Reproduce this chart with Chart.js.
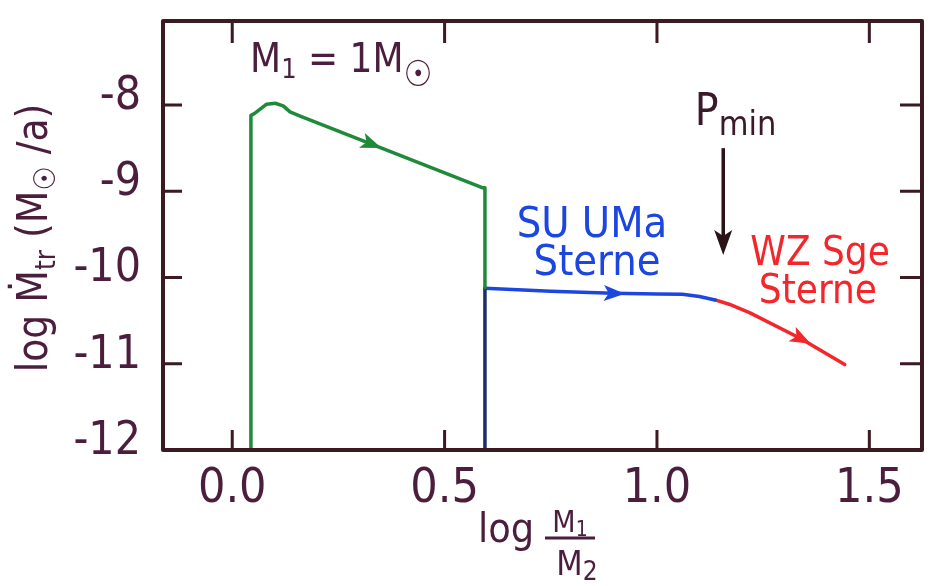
<!DOCTYPE html>
<html>
<head>
<meta charset="utf-8">
<script src="https://cdn.jsdelivr.net/npm/chart.js@4.4.0/dist/chart.umd.min.js"></script>
<style>
    html, body { margin: 0; padding: 0; background: #fff; }
    #wrap { width: 930px; height: 586px; position: relative; }
</style>
</head>
<body>
<div id="wrap"><canvas id="chart"></canvas></div>
<script>
// mass transfer rate vs. log(M1/M2), M1 = 1 Msun

const xTicks = [0.0, 0.5, 1.0, 1.5];
const yTicks = [-8, -9, -10, -11, -12];

// green track (left box)
const greenX = [0.044, 0.044, 0.052, 0.065, 0.081, 0.101, 0.120, 0.136, 0.160, 0.590, 0.595, 0.595];
const greenY = [-12, -8.12, -8.10, -8.05, -7.99, -7.98, -8.01, -8.08, -8.13, -8.96, -8.96, -10.12];
// dark drop line under the blue start
const dropX = [0.595, 0.595];
const dropY = [-10.12, -12];
// SU UMa stars
const blueX = [0.595, 0.75, 0.896, 1.00, 1.06, 1.10, 1.137];
const blueY = [-10.125, -10.16, -10.183, -10.19, -10.195, -10.22, -10.26];
// WZ Sge stars
const redX = [1.137, 1.17, 1.219, 1.337, 1.442];
const redY = [-10.26, -10.31, -10.41, -10.705, -11.01];

// arrow heads along the tracks
const arrowX = [0.325, 0.896, 1.337];
const arrowSet = [0, 2, 3];

// P_min marker
const pminX = 1.156;
const pminFrom = -8.50;
const pminTo = -9.74;

const INK = '#4a1e3c';
const AXIS = '#3b1a22';
const GREEN = '#1f8a3a';
const BLUE = '#1c46e0';
const RED = '#f2262b';
const NAVY = '#1d2d6a';
const FONT = "'Liberation Sans Narrow', 'DejaVu Sans Condensed', 'Liberation Sans', sans-serif";

const pts = (xs, ys) => xs.map((x, i) => ({ x: x, y: ys[i] }));

function line(data, color) {
    return { data: data, borderColor: color, borderWidth: 3.5, showLine: true,
             pointRadius: 0, tension: 0, fill: false, borderJoinStyle: 'round', borderCapStyle: 'round' };
}

// draw a list of text runs, each {t, size, dy}
function runs(ctx, list, x, y, align) {
    let w = 0;
    list.forEach(r => { ctx.font = r.size + 'px ' + FONT; w += ctx.measureText(r.t).width; });
    let cx = align === 'center' ? x - w / 2 : x;
    list.forEach(r => {
        ctx.font = r.size + 'px ' + FONT;
        ctx.fillText(r.t, cx, y + (r.dy || 0));
        cx += ctx.measureText(r.t).width;
    });
}

const decor = {
    id: 'decor',
    afterDatasetsDraw(chart) {
        const ctx = chart.ctx;
        const a = chart.chartArea;
        const xs = chart.scales.x, ys = chart.scales.y;
        ctx.save();

        // frame
        ctx.strokeStyle = AXIS;
        ctx.lineWidth = 4;
        ctx.lineJoin = 'round';
        ctx.strokeRect(a.left, a.top, a.right - a.left, a.bottom - a.top);

        // inward ticks on all four sides
        ctx.lineWidth = 3;
        ctx.beginPath();
        xTicks.forEach(v => {
            const px = xs.getPixelForValue(v);
            ctx.moveTo(px, a.bottom); ctx.lineTo(px, a.bottom - 20);
            ctx.moveTo(px, a.top); ctx.lineTo(px, a.top + 22);
        });
        yTicks.forEach(v => {
            const py = ys.getPixelForValue(v);
            ctx.moveTo(a.left, py); ctx.lineTo(a.left + 19, py);
            ctx.moveTo(a.right, py); ctx.lineTo(a.right - 22, py);
        });
        ctx.stroke();

        // arrow heads on the tracks
        arrowX.forEach((ax, i) => {
            const ds = chart.data.datasets[arrowSet[i]];
            const d = ds.data;
            let k = 0;
            while (k < d.length - 2 && !(d[k].x <= ax && d[k + 1].x >= ax && d[k + 1].x > d[k].x)) k++;
            const t = (ax - d[k].x) / (d[k + 1].x - d[k].x);
            const ay = d[k].y + t * (d[k + 1].y - d[k].y);
            const x0 = xs.getPixelForValue(d[k].x), y0 = ys.getPixelForValue(d[k].y);
            const x1 = xs.getPixelForValue(d[k + 1].x), y1 = ys.getPixelForValue(d[k + 1].y);
            const ang = Math.atan2(y1 - y0, x1 - x0);
            const px = xs.getPixelForValue(ax), py = ys.getPixelForValue(ay);
            ctx.save();
            ctx.translate(px, py);
            ctx.rotate(ang);
            ctx.fillStyle = ds.borderColor;
            ctx.beginPath();
            ctx.moveTo(12, 0);
            ctx.lineTo(-9, -8);
            ctx.lineTo(-4, 0);
            ctx.lineTo(-9, 8);
            ctx.closePath();
            ctx.fill();
            ctx.restore();
        });

        // P_min arrow
        const pmx = xs.getPixelForValue(pminX);
        const pTop = ys.getPixelForValue(pminFrom), pBot = ys.getPixelForValue(pminTo);
        ctx.strokeStyle = '#2a1418';
        ctx.fillStyle = '#2a1418';
        ctx.lineWidth = 3.5;
        ctx.beginPath();
        ctx.moveTo(pmx, pTop); ctx.lineTo(pmx, pBot - 18);
        ctx.stroke();
        ctx.beginPath();
        ctx.moveTo(pmx, pBot);
        ctx.lineTo(pmx - 9, pBot - 25);
        ctx.lineTo(pmx, pBot - 19);
        ctx.lineTo(pmx + 9, pBot - 25);
        ctx.closePath();
        ctx.fill();

        // annotations
        ctx.textBaseline = 'alphabetic';
        ctx.fillStyle = INK;
        runs(ctx, [{ t: 'M', size: 40 }, { t: '1', size: 27, dy: 6 }, { t: ' = 1M', size: 40 }, { t: '☉', size: 36, dy: 14 }],
            xs.getPixelForValue(0.042), ys.getPixelForValue(-7.617), 'left');
        ctx.fillStyle = '#3a1a2a';
        runs(ctx, [{ t: 'P', size: 44 }, { t: 'min', size: 34, dy: 10 }],
            xs.getPixelForValue(1.089), ys.getPixelForValue(-8.232), 'left');

        ctx.fillStyle = BLUE;
        runs(ctx, [{ t: 'SU UMa', size: 43 }], xs.getPixelForValue(0.847), ys.getPixelForValue(-9.53), 'center');
        runs(ctx, [{ t: 'Sterne', size: 43 }], xs.getPixelForValue(0.859), ys.getPixelForValue(-9.971), 'center');
        ctx.fillStyle = RED;
        runs(ctx, [{ t: 'WZ Sge', size: 40 }], xs.getPixelForValue(1.384), ys.getPixelForValue(-9.855), 'center');
        runs(ctx, [{ t: 'Sterne', size: 40 }], xs.getPixelForValue(1.379), ys.getPixelForValue(-10.296), 'center');
        ctx.restore();
    },
    afterDraw(chart) {
        const ctx = chart.ctx;
        ctx.save();
        ctx.fillStyle = INK;
        ctx.textBaseline = 'alphabetic';

        // y title, rotated
        ctx.save();
        ctx.translate(47, 238);
        ctx.rotate(-Math.PI / 2);
        runs(ctx, [{ t: 'log Ṁ', size: 42 }, { t: 'tr', size: 28, dy: 8 }, { t: ' (M', size: 42 },
                   { t: '☉', size: 30, dy: 8 }, { t: ' /a)', size: 42 }], 0, 0, 'center');
        ctx.restore();

        // x title: log M1/M2
        runs(ctx, [{ t: 'log', size: 41 }], 478, 542, 'left');
        runs(ctx, [{ t: 'M', size: 30 }, { t: '1', size: 21, dy: 4 }], 570, 532, 'center');
        runs(ctx, [{ t: 'M', size: 34 }, { t: '2', size: 26, dy: 5 }], 577, 575, 'center');
        ctx.strokeStyle = INK;
        ctx.lineWidth = 3;
        ctx.beginPath();
        ctx.moveTo(545, 538); ctx.lineTo(595, 538);
        ctx.stroke();
        ctx.restore();
    }
};

new Chart(document.getElementById('chart'), {
    type: 'scatter',
    data: {
        datasets: [
            line(pts(greenX, greenY), GREEN),
            line(pts(dropX, dropY), NAVY),
            line(pts(blueX, blueY), BLUE),
            line(pts(redX, redY), RED)
        ]
    },
    options: {
        responsive: true,
        maintainAspectRatio: false,
        animation: false,
        layout: { padding: { top: 21, right: 8, left: 0, bottom: 0 } },
        plugins: { legend: { display: false }, tooltip: { enabled: false } },
        scales: {
            x: {
                type: 'linear', min: -0.163, max: 1.624,
                afterBuildTicks: s => { s.ticks = xTicks.map(v => ({ value: v })); },
                afterFit: s => { s.height = 136; s.paddingLeft = 0; s.paddingRight = 0; },
                grid: { display: false, drawTicks: false },
                border: { display: false },
                ticks: { color: INK, font: { family: FONT, size: 48 }, padding: 11,
                         maxRotation: 0, callback: v => v.toFixed(1) }
            },
            y: {
                type: 'linear', min: -12, max: -7.026,
                afterBuildTicks: s => { s.ticks = yTicks.map(v => ({ value: v })); },
                afterFit: s => { s.width = 163; s.paddingTop = 0; s.paddingBottom = 0; },
                grid: { display: false, drawTicks: false },
                border: { display: false },
                ticks: { color: INK, font: { family: FONT, size: 46 }, padding: 22, labelOffset: -8,
                         callback: v => '-' + Math.abs(v) }
            }
        }
    },
    plugins: [decor]
});
</script>
</body>
</html>
